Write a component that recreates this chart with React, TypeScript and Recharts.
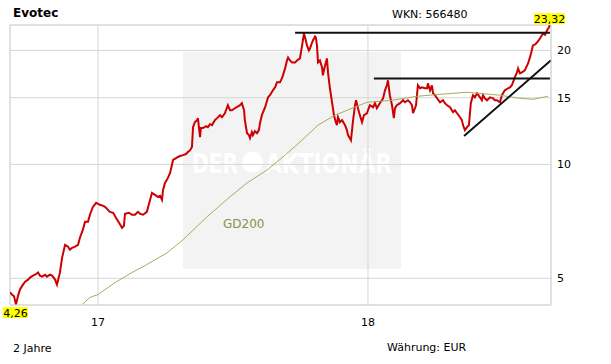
import { CartesianGrid, Line, LineChart, ReferenceDot, ReferenceLine, XAxis, YAxis } from "recharts";

// Evotec, 2 Jahre, Schlusskurse (EUR), x = Jahr als Dezimalzahl
const priceDates = [
  2016.674, 2016.681, 2016.689, 2016.696, 2016.704, 2016.711, 2016.722, 2016.73, 2016.741, 2016.748,
  2016.759, 2016.767, 2016.778, 2016.785, 2016.793, 2016.804, 2016.811, 2016.822, 2016.83, 2016.841,
  2016.848, 2016.856, 2016.859, 2016.867, 2016.878, 2016.889, 2016.896, 2016.904, 2016.915, 2016.926,
  2016.933, 2016.944, 2016.952, 2016.963, 2016.97, 2016.981, 2016.993, 2017.0, 2017.007, 2017.019,
  2017.026, 2017.037, 2017.044, 2017.056, 2017.067, 2017.078, 2017.089, 2017.096, 2017.1, 2017.115,
  2017.126, 2017.137, 2017.148, 2017.156, 2017.167, 2017.181, 2017.193, 2017.2, 2017.211, 2017.222,
  2017.23, 2017.237, 2017.241, 2017.248, 2017.259, 2017.267, 2017.278, 2017.289, 2017.296, 2017.304,
  2017.315, 2017.326, 2017.333, 2017.341, 2017.348, 2017.352, 2017.359, 2017.367, 2017.37, 2017.378,
  2017.381, 2017.389, 2017.4, 2017.407, 2017.415, 2017.422, 2017.433, 2017.441, 2017.452, 2017.459,
  2017.47, 2017.481, 2017.489, 2017.496, 2017.507, 2017.519, 2017.526, 2017.533, 2017.541, 2017.544,
  2017.552, 2017.559, 2017.563, 2017.57, 2017.574, 2017.581, 2017.589, 2017.596, 2017.6, 2017.607,
  2017.619, 2017.63, 2017.637, 2017.648, 2017.656, 2017.663, 2017.674, 2017.681, 2017.685, 2017.693,
  2017.7, 2017.704, 2017.711, 2017.719, 2017.73, 2017.737, 2017.748, 2017.756, 2017.763, 2017.77,
  2017.774, 2017.781, 2017.785, 2017.793, 2017.796, 2017.804, 2017.807, 2017.811, 2017.815, 2017.822,
  2017.83, 2017.833, 2017.841, 2017.848, 2017.852, 2017.859, 2017.867, 2017.874, 2017.881, 2017.885,
  2017.889, 2017.896, 2017.904, 2017.915, 2017.922, 2017.926, 2017.933, 2017.937, 2017.941, 2017.944,
  2017.952, 2017.956, 2017.963, 2017.97, 2017.978, 2017.985, 2017.996, 2018.007, 2018.019, 2018.026,
  2018.033, 2018.044, 2018.056, 2018.063, 2018.07, 2018.074, 2018.081, 2018.089, 2018.096, 2018.1,
  2018.107, 2018.119, 2018.13, 2018.137, 2018.148, 2018.156, 2018.163, 2018.167, 2018.174, 2018.178,
  2018.185, 2018.193, 2018.2, 2018.211, 2018.219, 2018.222, 2018.23, 2018.237, 2018.241, 2018.248,
  2018.256, 2018.267, 2018.278, 2018.285, 2018.293, 2018.304, 2018.315, 2018.322, 2018.33, 2018.341,
  2018.348, 2018.352, 2018.359, 2018.367, 2018.374, 2018.381, 2018.389, 2018.396, 2018.404, 2018.415,
  2018.422, 2018.426, 2018.433, 2018.441, 2018.452, 2018.463, 2018.47, 2018.478, 2018.489, 2018.496,
  2018.507, 2018.519, 2018.526, 2018.533, 2018.544, 2018.552, 2018.556, 2018.563, 2018.57, 2018.581,
  2018.593, 2018.6, 2018.604, 2018.611, 2018.619, 2018.626, 2018.637, 2018.648, 2018.656, 2018.663,
  2018.67, 2018.674,
];
const priceValues = [
  4.59, 4.53, 4.48, 4.26, 4.5, 4.67, 4.81, 4.9, 4.96, 5.02,
  5.08, 5.11, 5.18, 5.08, 5.05, 5.11, 5.05, 5.11, 5.08, 4.96,
  4.81, 5.08, 5.18, 5.67, 6.13, 6.06, 5.95, 6.02, 6.06, 6.13,
  6.4, 6.72, 7.05, 7.05, 7.36, 7.72, 7.91, 7.86, 7.82, 7.77,
  7.72, 7.58, 7.49, 7.45, 7.22, 7.01, 6.8, 6.88, 7.4, 7.45,
  7.36, 7.36, 7.49, 7.4, 7.36, 7.49, 8.06, 8.41, 8.31, 8.21,
  8.26, 8.06, 8.56, 8.93, 9.21, 9.49, 10.27, 10.39, 10.46, 10.52,
  10.58, 10.65, 10.78, 10.9, 11.11, 12.54, 12.93, 13.09, 13.25, 11.8,
  12.47, 12.47, 12.62, 12.54, 12.77, 12.7, 13.09, 13.25, 13.49, 13.32,
  13.65, 14.33, 13.9, 13.9, 14.07, 14.24, 14.33, 14.51, 13.9, 13.09,
  12.09, 11.95, 11.73, 12.17, 11.95, 12.24, 12.09, 12.32, 12.85, 13.49,
  14.16, 15.04, 15.23, 15.69, 15.98, 16.47, 16.47, 16.88, 17.19, 17.93,
  18.82, 19.17, 18.82, 18.6, 18.6, 18.82, 19.05, 20.62, 22.17, 21.25,
  20.62, 20.0, 20.24, 20.99, 21.25, 21.77, 21.64, 20.62, 18.6, 18.82,
  18.04, 17.19, 18.26, 19.05, 17.5, 15.89, 14.59, 13.49, 12.93, 12.7,
  13.32, 12.93, 13.09, 12.7, 12.32, 11.95, 11.73, 11.59, 12.32, 12.93,
  14.33, 14.77, 14.07, 13.49, 12.93, 13.49, 13.65, 14.33, 14.16, 14.51,
  14.07, 14.51, 14.95, 15.69, 16.18, 16.68, 15.23, 14.33, 13.25, 14.07,
  14.33, 14.51, 14.77, 14.59, 14.77, 14.59, 14.33, 13.65, 14.07, 14.33,
  16.18, 15.89, 15.98, 15.89, 15.89, 16.37, 15.69, 16.18, 15.41, 15.23,
  14.95, 14.59, 14.77, 14.51, 14.33, 14.16, 13.74, 13.9, 13.65, 13.32,
  13.09, 12.7, 12.32, 12.54, 12.7, 14.51, 15.23, 15.04, 15.41, 15.04,
  14.77, 15.23, 14.95, 14.77, 15.04, 14.95, 14.77, 14.77, 14.59, 15.23,
  15.69, 15.89, 15.98, 16.18, 16.98, 17.5, 17.93, 17.4, 17.5, 17.72,
  18.48, 19.17, 19.64, 20.62, 20.75, 20.99, 21.51, 22.17, 22.0, 22.58,
  23.0, 23.32,
];

// 200-Tage-Linie
const gd200Dates = [
  2016.941, 2016.97, 2017.0, 2017.063, 2017.126, 2017.174, 2017.256, 2017.315, 2017.404, 2017.489,
  2017.552, 2017.626, 2017.685, 2017.748, 2017.815, 2017.878, 2017.996, 2018.089, 2018.181, 2018.267,
  2018.367, 2018.489, 2018.563, 2018.611, 2018.667,
];
const gd200Values = [
  4.26, 4.45, 4.53, 4.87, 5.18, 5.4, 5.84, 6.32, 7.27, 8.21,
  8.93, 9.66, 10.46, 11.45, 12.7, 13.49, 14.59, 14.77, 15.13, 15.32,
  15.51, 15.23, 14.95, 14.86, 15.13,
];

// eingezeichnete Widerstände und Aufwärtstrend
const resistanceFrom = [2017.73, 2018.022];
const resistanceTo = [2018.674, 2018.674];
const resistanceLevels = [22.27, 16.86];
const trendDates = [2018.356, 2018.678];
const trendValues = [11.88, 18.85];

const xTicks = [2017, 2018];
const yTicks = [5, 10, 15, 20];
const xDomain = [2016.674, 2018.678];
const yDomain = [4.25, 23.35];

const priceData = priceDates.map((t, i) => ({ t, price: priceValues[i] }));
const gd200Data = gd200Dates.map((t, i) => ({ t, gd200: gd200Values[i] }));

const FONT = "'DejaVu Sans', Verdana, sans-serif";
const GRID = "#d6d6d6";

function Badge({ cx, cy, text, dx, dy, w }: { cx: number; cy: number; text: string; dx: number; dy: number; w: number }) {
  return (
    <g>
      <rect x={cx + dx} y={cy + dy} width={w} height={11} fill="#ffff00" />
      <text
        x={cx + dx + w / 2}
        y={cy + dy + 10}
        textAnchor="middle"
        fontSize={11}
        fontFamily={FONT}
        fill="#000"
      >
        {text}
      </text>
    </g>
  );
}

export default function App() {
  const last = priceValues.length - 1;
  const minIdx = priceValues.indexOf(Math.min(...priceValues));
  const fmt = (v: number) => v.toFixed(2).replace(".", ",");

  return (
    <div style={{ position: "absolute", left: 0, top: 0, width: 611, height: 364, background: "#fff", fontFamily: FONT }}>
      {/* watermark */}
      <svg width={611} height={364} style={{ position: "absolute", left: 0, top: 0 }}>
        <rect x={183} y={52} width={218} height={217} fill="#f3f3f3" />
        <text x={192} y={173} fontSize={27} fontWeight="bold" fill="#fff" textLength={46} lengthAdjust="spacingAndGlyphs">
          DER
        </text>
        <circle cx={252.5} cy={162} r={10.5} fill="#fff" />
        <text x={265} y={173} fontSize={27} fontWeight="bold" fill="#fff" textLength={127} lengthAdjust="spacingAndGlyphs">
          AKTIONÄR
        </text>
      </svg>

      <div style={{ position: "absolute", left: 0, top: 0 }}>
        <LineChart width={611} height={364} margin={{ top: 25, right: 0, bottom: 0, left: 10 }}>
          <CartesianGrid stroke={GRID} />
          <XAxis
            dataKey="t"
            type="number"
            domain={xDomain}
            ticks={xTicks}
            allowDataOverflow
            tickFormatter={(v: number) => String(v).slice(2)}
            tick={{ fill: "#000", fontSize: 11, fontFamily: FONT }}
            tickLine={false}
            tickMargin={7}
            axisLine={{ stroke: GRID }}
            height={59}
          />
          <YAxis
            orientation="right"
            scale="log"
            domain={yDomain}
            ticks={yTicks}
            allowDataOverflow
            tick={{ fill: "#000", fontSize: 11, fontFamily: FONT }}
            tickLine={false}
            tickMargin={0}
            axisLine={{ stroke: GRID }}
            width={60}
          />
          <ReferenceLine y={yDomain[1]} stroke={GRID} />
          <ReferenceLine x={xDomain[0]} stroke={GRID} />
          <Line
            data={priceData}
            dataKey="price"
            stroke="#cc0000"
            strokeWidth={2}
            dot={false}
            isAnimationActive={false}
          />
          <Line
            data={gd200Data}
            dataKey="gd200"
            stroke="#a4ac62"
            strokeWidth={1}
            dot={false}
            isAnimationActive={false}
          />
          {resistanceLevels.map((lvl, i) => (
            <ReferenceLine
              key={i}
              segment={[
                { x: resistanceFrom[i], y: lvl },
                { x: resistanceTo[i], y: lvl },
              ]}
              stroke="#111"
              strokeWidth={2}
            />
          ))}
          <ReferenceLine
            segment={[
              { x: trendDates[0], y: trendValues[0] },
              { x: trendDates[1], y: trendValues[1] },
            ]}
            stroke="#111"
            strokeWidth={2}
          />
          <ReferenceDot
            x={priceDates[last]}
            y={priceValues[last]}
            r={0}
            shape={(p: any) => <Badge cx={p.cx} cy={p.cy} text={fmt(priceValues[last])} dx={-16} dy={-12} w={31} />}
          />
          <ReferenceDot
            x={priceDates[minIdx]}
            y={priceValues[minIdx]}
            r={0}
            shape={(p: any) => <Badge cx={p.cx} cy={p.cy} text={fmt(priceValues[minIdx])} dx={-13} dy={2.5} w={25} />}
          />
        </LineChart>
      </div>

      <svg width={611} height={364} style={{ position: "absolute", left: 0, top: 0, pointerEvents: "none" }}>
        <text x={13} y={17} fontSize={12} fontWeight="bold" fill="#000">Evotec</text>
        <text x={392} y={18} fontSize={11} fill="#000">WKN: 566480</text>
        <text x={223} y={228} fontSize={12} fill="#86944a">GD200</text>
        <text x={13} y={352} fontSize={11} fill="#000">2 Jahre</text>
        <text x={387} y={351} fontSize={11} fill="#000">Währung: EUR</text>
      </svg>
    </div>
  );
}
